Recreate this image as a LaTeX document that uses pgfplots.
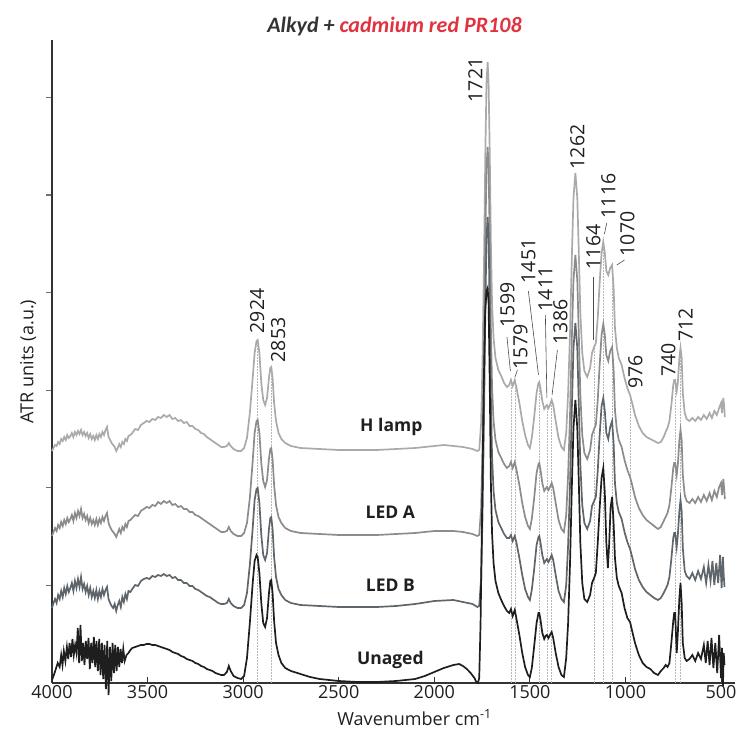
\documentclass[border=0pt]{standalone}
\usepackage{fontspec}
\setmainfont{Open Sans}
\newfontfamily\titlefont{Carlito}
\usepackage{pgfplots}
\pgfplotsset{compat=1.18}
\definecolor{hlamp}{HTML}{AAAAAA}
\definecolor{leda}{HTML}{8C8C8C}
\definecolor{ledb}{HTML}{5F666B}
\definecolor{unaged}{HTML}{1E1E1E}
\definecolor{axcol}{HTML}{333333}
\definecolor{titlered}{HTML}{E0323F}
\definecolor{titlegray}{HTML}{333333}
\begin{document}
\begin{tikzpicture}
\begin{axis}[
  scale only axis, width=683pt, height=643pt,
  x dir=reverse, xmin=427, xmax=4000, ymin=0, ymax=643,
  clip=false,
  axis x line*=bottom, axis y line*=left,
  axis line style={axcol, line width=1.1pt},
  xtick={4000,3500,...,500},
  ytick={97.6,195.2,292.8,390.4,488,585.6},
  yticklabels={},
  x tick style={axcol, line width=0.8pt},
  y tick style={axcol!70, line width=1.2pt},
  xtick align=inside, ytick align=outside,
  major tick length=6pt,
  /pgf/number format/assume math mode=true,
  /pgf/number format/1000 sep={},
  tick label style={font=\fontsize{18}{21}\selectfont, text=black!88},
  xticklabel style={yshift=1pt},
  xlabel={Wavenumber cm\textsuperscript{-1}},
  ylabel={ATR units (a.u.)},
  label style={font=\fontsize{18}{21}\selectfont, text=black!88},
  xlabel style={at={(axis description cs:0.531,-0.054)}, anchor=center},
  ylabel style={at={(axis description cs:-0.035,0.5)}, anchor=center},
]
% dotted guide lines
\foreach \p/\q in {2924/343,2853/316,1599/303,1579/303,1451/301,1411/278,1386/283,1164/336,1116/441,1070/418,976/288,740/303,712/335}{
  \edef\tmp{\noexpand\addplot[densely dotted, black!28, line width=0.5pt, forget plot] coordinates {(\p,0) (\p,\q)};}
  \tmp
}
% H lamp
\addplot[hlamp, line width=1.7pt] table {
wn h
4000 232
3992 235
3984 238
3976 237
3968 241
3960 239
3952 244
3944 242
3936 246
3928 243
3920 248
3912 245
3904 247
3896 250
3888 246
3880 251
3872 248
3864 252
3856 249
3848 253
3840 248
3832 251
3824 247
3816 250
3808 245
3800 249
3792 244
3784 247
3776 243
3768 248
3760 244
3752 249
3744 246
3736 251
3728 248
3720 253
3712 256
3704 246
3696 243
3688 240
3680 238
3672 236
3664 232
3656 235
3648 239
3640 236
3632 241
3624 239
3616 244
3608 242
3600 247
3590 248
3580 250
3565 254
3550 253
3535 258
3520 260
3505 262
3490 261
3475 264
3460 263
3445 266
3430 265
3415 268
3400 266
3385 268
3370 264
3355 265
3340 262
3325 263
3310 260
3295 261
3280 257
3265 257
3250 254
3235 253
3220 250
3205 249
3190 246
3175 244
3160 242
3145 240
3130 238
3115 236
3100 236
3085 237
3075 240
3065 237
3050 234
3030 232
3010 232
2995 235
2980 245
2965 270
2950 305
2940 330
2930 342
2924 343
2915 330
2905 300
2895 283
2885 278
2875 285
2865 305
2858 315
2853 316
2846 305
2838 280
2828 262
2815 250
2800 244
2780 240
2750 237
2700 235
2600 234
2500 233
2400 233
2300 233
2200 234
2100 235
2050 236
2000 237
1950 238
1900 237
1850 236
1800 234
1775 232
1765 233
1755 260
1748 320
1740 420
1733 530
1727 600
1721 621
1716 600
1710 530
1704 440
1698 380
1690 345
1680 325
1665 313
1650 307
1635 300
1620 296
1608 298
1599 303
1590 297
1579 303
1570 295
1555 280
1540 262
1525 248
1510 238
1500 235
1490 245
1478 265
1465 290
1455 300
1451 301
1445 295
1435 282
1425 274
1418 276
1411 278
1403 275
1395 278
1386 283
1378 278
1365 262
1350 245
1335 236
1322 233
1310 250
1300 290
1290 350
1280 430
1272 485
1262 510
1252 485
1244 430
1236 370
1226 330
1215 312
1200 306
1185 315
1175 330
1164 336
1155 340
1145 365
1135 400
1125 430
1116 441
1108 430
1100 412
1090 408
1080 415
1070 418
1062 395
1055 355
1045 335
1035 325
1020 318
1005 305
990 295
976 288
965 280
950 268
930 257
910 250
890 246
870 244
850 242
830 240
815 241
800 246
790 251
780 255
770 262
760 278
750 298
745 303
740 303
732 292
726 300
718 325
712 335
706 325
700 290
690 270
680 264
665 262
650 265
635 262
620 266
605 263
590 268
575 264
560 270
548 265
535 272
522 268
510 275
500 280
495 270
488 285
484 278
480 266
};
% LED A
\addplot[leda, line width=1.7pt] table {
wn h
4000 147
3992 151
3984 155
3976 152
3968 158
3960 155
3952 161
3944 157
3936 163
3928 159
3920 165
3912 161
3904 164
3896 168
3888 162
3880 170
3872 165
3864 172
3856 167
3848 174
3840 165
3832 169
3824 163
3816 167
3808 160
3800 165
3792 159
3784 163
3776 158
3768 164
3760 158
3752 164
3744 160
3736 166
3728 162
3720 167
3712 170
3704 160
3696 156
3688 153
3680 151
3672 149
3664 146
3656 150
3648 154
3640 150
3632 156
3624 153
3616 159
3608 156
3600 162
3590 163
3580 165
3565 168
3550 167
3535 172
3520 174
3505 176
3490 175
3475 178
3460 177
3445 181
3430 179
3415 182
3400 180
3385 182
3370 178
3355 179
3340 176
3325 177
3310 174
3295 174
3280 171
3265 171
3250 168
3235 167
3220 165
3205 163
3190 161
3175 159
3160 157
3145 155
3130 153
3115 151
3100 151
3085 152
3075 156
3065 152
3050 149
3030 147
3010 147
2995 150
2980 160
2965 185
2950 222
2940 250
2930 262
2924 263
2915 250
2905 220
2895 202
2885 196
2875 203
2865 224
2858 234
2853 235
2846 224
2838 198
2828 178
2815 166
2800 160
2780 155
2750 152
2700 150
2600 149
2500 148
2400 148
2300 148
2200 149
2100 150
2000 152
1900 152
1850 151
1800 149
1775 147
1765 148
1755 175
1748 235
1740 335
1733 445
1727 515
1721 536
1716 515
1710 445
1704 355
1698 297
1690 262
1680 243
1665 231
1650 225
1635 219
1620 215
1608 217
1599 221
1590 215
1579 221
1570 213
1555 198
1540 180
1525 166
1510 157
1500 154
1490 164
1478 184
1465 210
1455 219
1451 220
1445 214
1435 200
1425 192
1418 194
1411 196
1403 193
1395 196
1386 200
1378 195
1365 180
1350 163
1335 154
1322 151
1310 168
1300 208
1290 268
1280 348
1272 403
1262 428
1252 403
1244 348
1236 288
1226 248
1215 230
1200 224
1185 233
1175 248
1164 254
1155 258
1145 283
1135 318
1125 348
1116 359
1108 348
1100 328
1090 322
1080 332
1070 336
1062 313
1055 273
1045 253
1035 243
1020 236
1005 223
990 213
976 206
965 198
950 186
930 175
910 168
890 163
870 160
850 157
830 154
815 156
800 162
790 166
780 170
770 178
760 195
750 215
745 220
740 220
732 208
726 218
718 243
712 253
706 243
700 208
690 188
680 182
665 180
650 184
635 180
620 186
605 181
590 188
575 182
560 190
548 183
535 192
522 186
510 196
500 200
495 188
488 204
484 195
480 184
};
% LED B
\addplot[ledb, line width=1.7pt] table {
wn h
4000 75
3992 80
3984 84
3976 80
3968 88
3960 84
3952 92
3944 86
3936 95
3928 89
3920 97
3912 91
3904 95
3896 100
3888 92
3880 102
3872 95
3864 104
3856 96
3848 106
3840 94
3832 99
3824 91
3816 97
3808 88
3800 95
3792 86
3784 92
3776 85
3768 93
3760 84
3752 92
3744 86
3736 94
3728 88
3720 93
3712 96
3704 84
3696 80
3688 77
3680 75
3672 79
3664 72
3656 78
3648 82
3640 76
3632 86
3624 81
3616 89
3608 84
3600 92
3590 91
3580 94
3565 98
3550 97
3535 102
3520 104
3505 105
3490 104
3475 107
3460 106
3445 108
3430 107
3415 109
3400 107
3385 108
3370 105
3355 106
3340 103
3325 103
3310 100
3295 100
3280 97
3265 97
3250 94
3235 93
3220 91
3205 89
3190 87
3175 86
3160 84
3145 82
3130 80
3115 79
3100 79
3085 80
3075 84
3065 80
3050 77
3030 75
3010 75
2995 78
2980 90
2965 118
2950 155
2940 183
2930 194
2924 195
2915 180
2905 148
2895 128
2885 123
2875 130
2865 154
2858 165
2853 166
2846 154
2838 126
2828 106
2815 94
2800 88
2780 83
2750 80
2700 78
2600 77
2500 76
2400 76
2300 76
2200 77
2100 79
2000 82
1900 83
1850 81
1800 79
1775 76
1765 77
1755 105
1748 165
1740 265
1733 375
1727 445
1721 466
1716 445
1710 375
1704 285
1698 227
1690 192
1680 173
1665 161
1650 155
1635 149
1620 145
1608 145
1599 148
1590 142
1579 147
1570 140
1555 125
1540 108
1525 94
1510 86
1500 83
1490 93
1478 113
1465 138
1455 146
1451 147
1445 141
1435 128
1425 120
1418 122
1411 124
1403 121
1395 124
1386 128
1378 123
1365 108
1350 92
1335 84
1322 81
1310 98
1300 138
1290 198
1280 278
1272 335
1262 360
1252 335
1244 278
1236 218
1226 178
1215 160
1200 154
1185 162
1175 177
1164 182
1155 186
1145 212
1135 248
1125 277
1116 285
1108 272
1100 250
1090 244
1080 256
1070 262
1062 240
1055 200
1045 180
1035 171
1020 164
1005 151
990 141
976 134
965 126
950 114
930 103
910 96
890 91
870 88
850 85
830 83
815 85
800 90
790 94
780 98
770 106
760 124
750 145
745 150
740 150
732 136
726 148
718 172
712 183
706 172
700 135
690 112
680 107
665 104
650 110
635 103
620 112
605 104
590 116
578 100
566 118
555 102
545 122
535 98
525 120
515 100
505 128
497 95
490 126
486 108
482 96
};
% Unaged
\addplot[unaged, line width=1.7pt] table {
wn h
4000 3
3990 8
3980 14
3970 20
3960 16
3952 28
3945 18
3938 32
3930 22
3922 36
3915 24
3908 40
3900 26
3893 44
3886 28
3879 38
3872 30
3865 55
3858 20
3851 58
3844 22
3837 40
3830 18
3823 42
3816 24
3809 45
3802 14
3795 40
3788 20
3781 46
3774 16
3767 42
3760 12
3753 44
3746 8
3739 40
3732 4
3725 38
3718 -6
3711 42
3704 -12
3697 36
3690 2
3683 40
3676 10
3669 38
3662 12
3655 36
3648 16
3641 34
3634 20
3627 34
3620 22
3610 28
3600 30
3590 33
3580 35
3565 36
3550 37
3535 38
3520 38
3505 39
3490 39
3475 38
3460 38
3445 37
3430 36
3415 35
3400 34
3385 33
3370 31
3355 30
3340 29
3325 27
3310 26
3295 24
3280 23
3265 22
3250 20
3235 19
3220 17
3205 16
3190 14
3175 13
3160 12
3145 10
3130 9
3115 8
3100 8
3085 11
3075 17
3065 12
3050 7
3030 5
3010 4
2995 7
2980 25
2965 60
2950 100
2940 122
2930 128
2924 126
2915 110
2905 80
2895 60
2885 56
2875 65
2865 90
2858 102
2853 103
2846 90
2838 62
2828 40
2815 28
2800 20
2780 15
2750 12
2700 9
2650 6
2600 4
2500 2
2400 1
2300 1
2200 2
2100 4
2050 7
2000 11
1950 15
1900 18
1870 19
1850 17
1830 14
1810 10
1790 5
1780 1
1772 0
1765 5
1758 60
1750 170
1742 290
1734 370
1727 392
1721 395
1716 380
1710 300
1704 200
1698 150
1690 120
1680 102
1665 90
1650 83
1635 77
1620 72
1608 70
1599 74
1590 67
1579 73
1570 64
1555 48
1540 30
1525 16
1510 8
1500 6
1490 15
1478 36
1465 60
1455 70
1451 70
1445 64
1435 50
1425 44
1418 47
1411 48
1403 45
1395 48
1386 51
1378 45
1365 30
1350 16
1335 8
1322 6
1310 25
1300 60
1290 120
1280 200
1272 255
1262 283
1252 255
1244 200
1236 140
1226 100
1215 84
1200 81
1185 88
1175 100
1164 105
1155 110
1145 140
1135 175
1125 205
1116 215
1108 190
1100 140
1092 115
1085 140
1078 175
1070 186
1062 160
1055 125
1045 105
1035 97
1020 90
1005 75
990 65
976 61
965 52
950 40
930 28
910 20
890 16
870 14
850 10
830 8
815 12
800 15
790 18
780 16
770 20
760 40
750 62
745 70
740 70
732 30
726 50
718 85
712 100
706 80
700 40
690 25
680 22
665 24
650 28
635 22
620 30
605 24
590 38
580 20
570 42
560 18
550 45
540 15
530 40
520 10
510 48
500 5
495 35
490 -3
486 30
482 18
};
% series names
\node[font=\fontsize{17.5}{20}\selectfont\bfseries, text=black!88] at (axis cs:2225,256) {H lamp};
\node[font=\fontsize{17.5}{20}\selectfont\bfseries, text=black!88] at (axis cs:2230,171) {LED A};
\node[font=\fontsize{17.5}{20}\selectfont\bfseries, text=black!88] at (axis cs:2230,98) {LED B};
\node[font=\fontsize{17.5}{20}\selectfont\bfseries, text=black!88] at (axis cs:2230,23) {Unaged};
% peak labels
\foreach \wn/\hh/\txt in {2927/372/2924, 2817/343/2853, 1785/603/1721, 1618/378/1599, 1550/336/1579, 1508/422/1451, 1419/394/1411, 1340/361/1386, 1251/536/1262, 1168/436/1164, 1089/487/1116, 990/449/1070, 948/311/976, 775/323/740, 686/358/712}{
  \edef\tmp{\noexpand\node[rotate=90, font=\noexpand\fontsize{19.5}{22}\noexpand\selectfont, text=black!88, inner sep=0pt] at (axis cs:\wn,\hh) {\txt};}
  \tmp
}
% leader lines
\draw[black!70, line width=0.6pt] (axis cs:1620,346) -- (axis cs:1602,312);
\draw[black!70, line width=0.6pt] (axis cs:1565,313) -- (axis cs:1578,306);
\draw[black!70, line width=0.6pt] (axis cs:1508,392) -- (axis cs:1455,308);
\draw[black!70, line width=0.6pt] (axis cs:1419,368) -- (axis cs:1411,285);
\draw[black!70, line width=0.6pt] (axis cs:1356,333) -- (axis cs:1384,288);
\draw[black!70, line width=0.6pt] (axis cs:1166,406) -- (axis cs:1166,343);
\draw[black!70, line width=0.6pt] (axis cs:1098,460) -- (axis cs:1110,449);
\draw[black!70, line width=0.6pt] (axis cs:1005,423) -- (axis cs:1045,418);
\end{axis}
\node[font=\titlefont\fontsize{22}{26}\selectfont\bfseries\itshape, anchor=center] at ([shift={(1pt,13pt)}]current axis.north) {\textcolor{titlegray}{Alkyd +} \textcolor{titlered}{cadmium red PR108}};
\path ([shift={(-52pt,-50pt)}]current axis.south west) rectangle ([shift={(6pt,40pt)}]current axis.north east);
\end{tikzpicture}
\end{document}
